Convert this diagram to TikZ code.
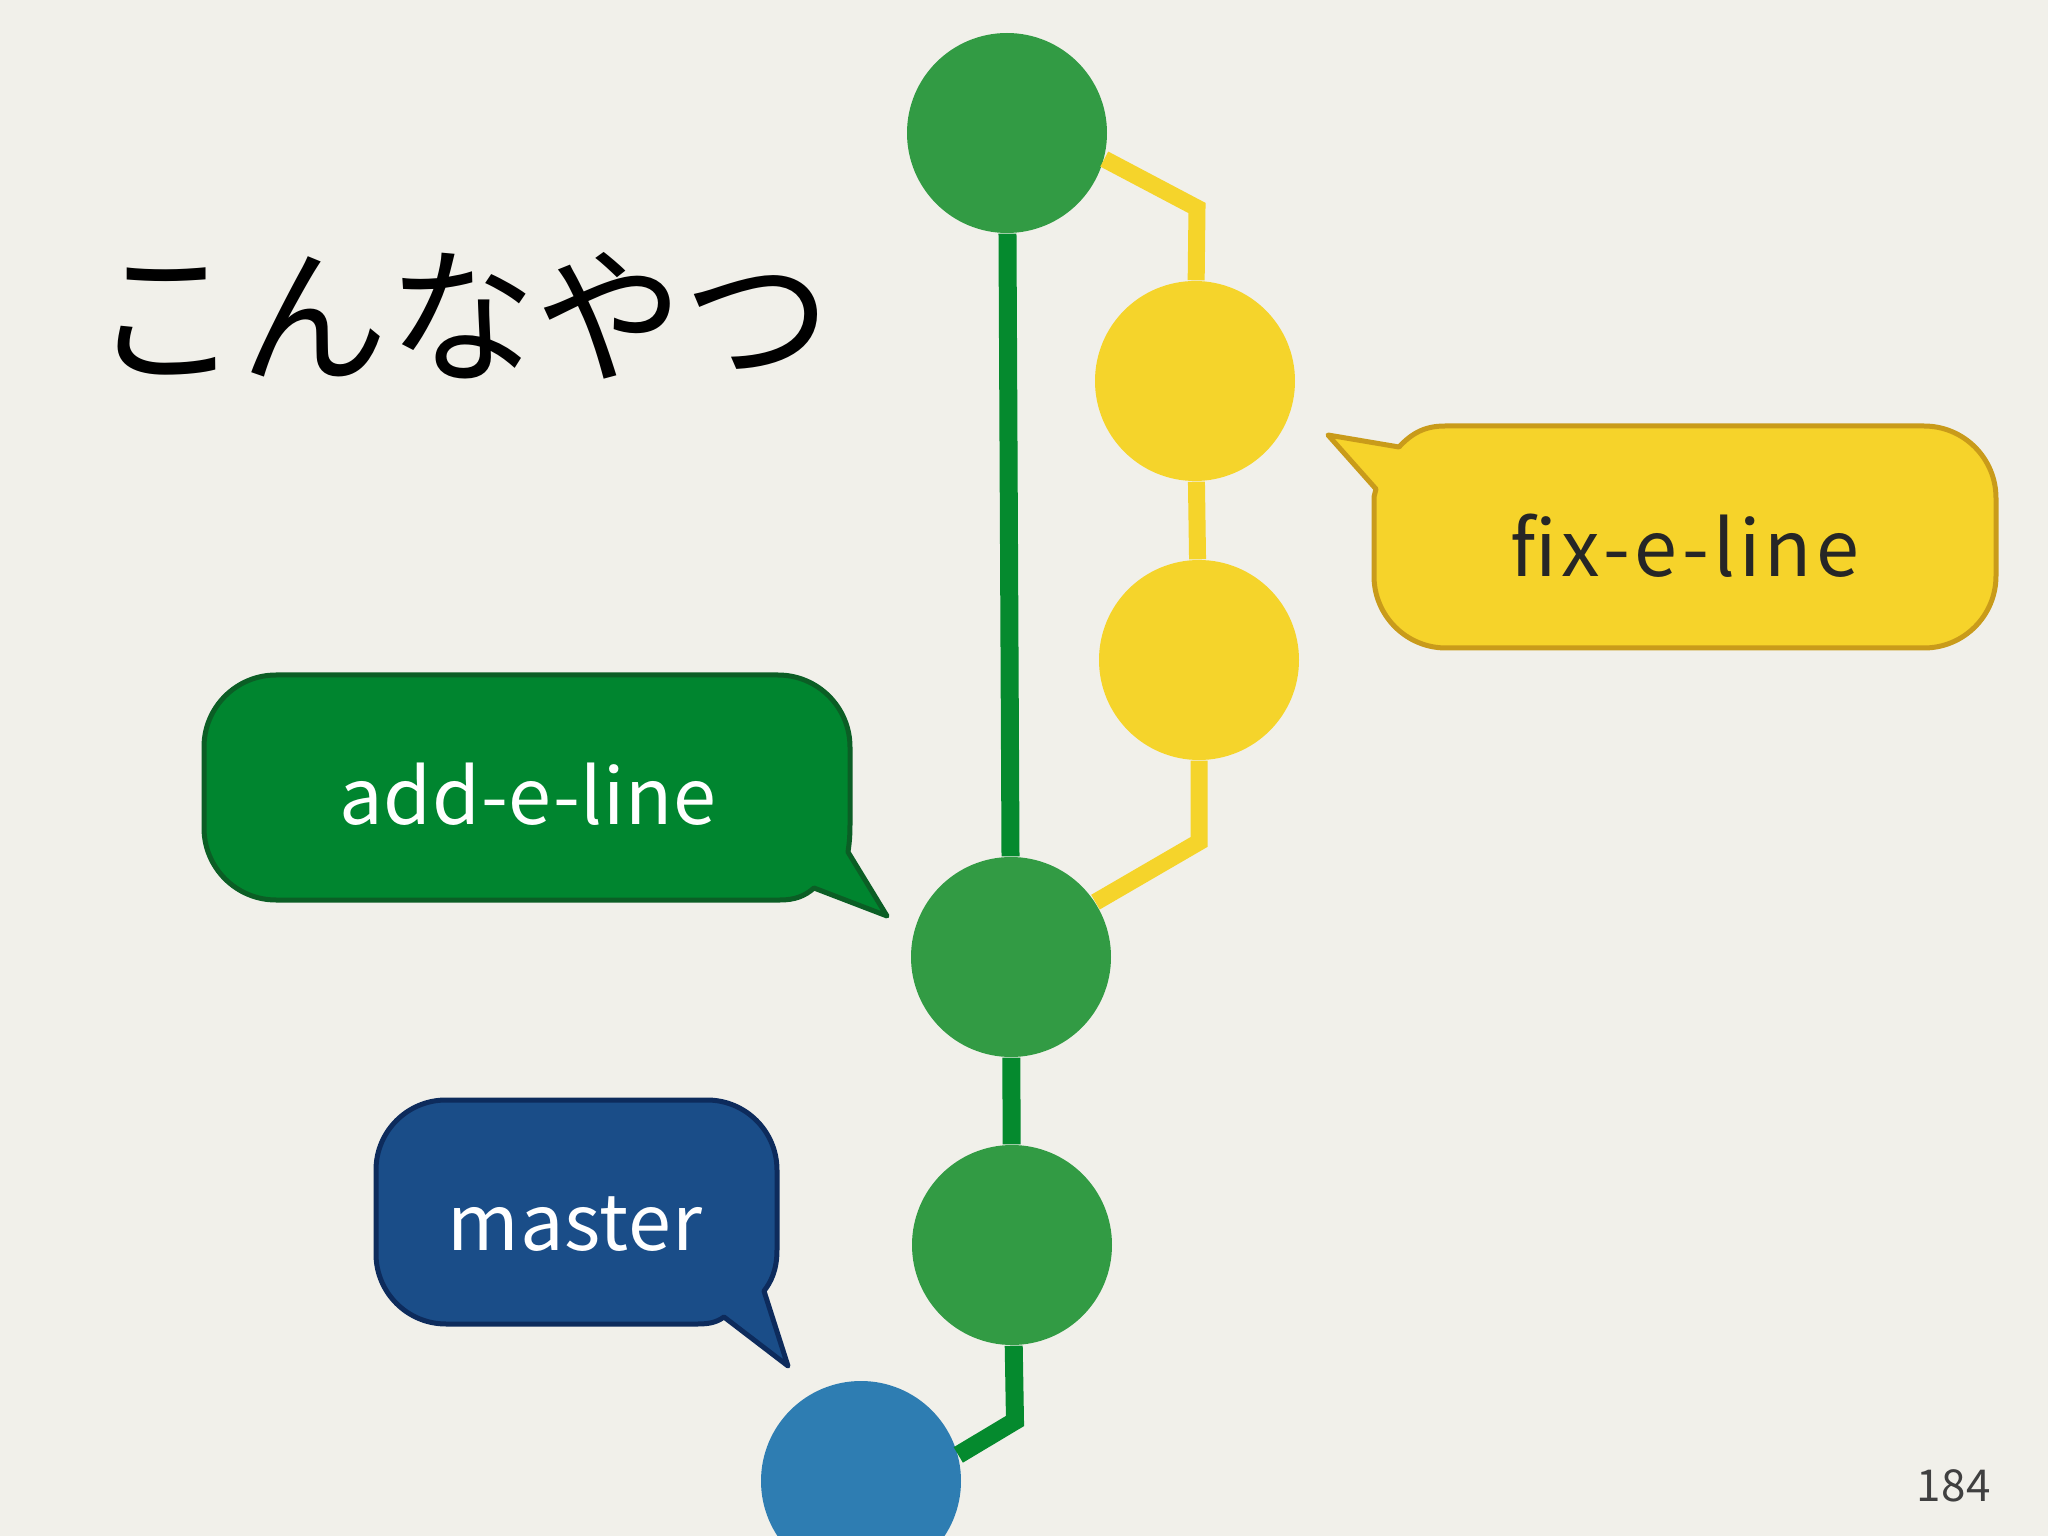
\documentclass[tikz,border=0pt]{standalone}
\usepackage{fontspec}
\newfontfamily\jpfont{Noto Sans CJK JP}
\newfontfamily\tagfont[LetterSpace=1]{Noto Sans CJK JP}
\newfontfamily\widetagfont[LetterSpace=5.5]{Noto Sans CJK JP}
\definecolor{paper}{HTML}{F1F0EA}
\definecolor{trunkdot}{HTML}{329B44}
\definecolor{trunkline}{HTML}{058A2E}
\definecolor{topicdot}{HTML}{F5D42B}
\definecolor{basedot}{HTML}{2E7DB2}
\definecolor{addfill}{HTML}{00852F}
\definecolor{addedge}{HTML}{0B5E25}
\definecolor{fixfill}{HTML}{F6D32A}
\definecolor{fixedge}{HTML}{C99B1A}
\definecolor{masterfill}{HTML}{1A4D88}
\definecolor{masteredge}{HTML}{0D2B5C}

\begin{document}
\begin{tikzpicture}[
  commit/.style={circle, minimum size=2cm, inner sep=0pt},
  trunk/.style={draw=trunkline, line width=0.18cm},
  topic/.style={draw=topicdot, line width=0.17cm},
  bubble/.style={line width=0.05cm, line join=round},
  tag/.style={font=\tagfont\fontsize{22}{26}\selectfont, anchor=base, inner sep=0pt}]
\useasboundingbox (0,0) rectangle (20.48,-15.36);
\clip (0,0) rectangle (20.48,-15.36);
\fill[paper] (0,0) rectangle (20.48,-15.36);

\node[font=\jpfont\fontsize{42}{46}\selectfont, inner sep=0pt] (title) at (4.62,-3.16) {こんなやつ};

% commits
\node[commit, fill=trunkdot] (g3) at (10.07,-1.33) {};
\node[commit, fill=topicdot] (f2) at (11.95,-3.81) {};
\node[commit, fill=topicdot] (f1) at (11.99,-6.60) {};
\node[commit, fill=trunkdot] (g2) at (10.11,-9.57) {};
\node[commit, fill=trunkdot] (g1) at (10.12,-12.45) {};
\node[commit, fill=basedot] (base) at (8.61,-14.81) {};

\coordinate (b1) at (11.97,-2.08);
\coordinate (b2) at (11.99,-8.42);
\coordinate (b3) at (10.15,-14.21);

\draw[trunk] (g3) -- (g2);
\draw[trunk] (g2) -- (g1);
\draw[trunk] (g1) -- (b3) -- (base.15);
\draw[topic] (g3.-15) -- (b1) -- (f2);
\draw[topic] (f2) -- (f1);
\draw[topic] (f1) -- (b2) -- (g2.33);

% branch labels
\coordinate (fixtip) at (13.28,-4.35);
\draw[bubble, draw=fixedge, fill=fixfill] (fixtip) -- (13.99,-4.47)
  .. controls (14.12,-4.33) and (14.25,-4.26) .. (14.45,-4.26) -- (19.24,-4.26)
  arc[start angle=90, end angle=0, radius=0.72] -- (19.96,-5.76)
  arc[start angle=0, end angle=-90, radius=0.72] -- (14.46,-6.48)
  arc[start angle=-90, end angle=-180, radius=0.72] -- (13.74,-4.97)
  -- (13.76,-4.89) -- cycle;
\node[tag, font=\widetagfont\fontsize{22}{26}\selectfont, text=black!85] (fix) at (16.85,-5.77) {fix-e-line};

\coordinate (addtip) at (8.87,-9.16);
\draw[bubble, draw=addedge, fill=addfill] (addtip) -- (8.14,-8.88)
  .. controls (8.05,-8.96) and (7.95,-9.00) .. (7.80,-9.00) -- (2.76,-9.00)
  arc[start angle=-90, end angle=-180, radius=0.72] -- (2.04,-7.47)
  arc[start angle=180, end angle=90, radius=0.72] -- (7.78,-6.75)
  arc[start angle=90, end angle=0, radius=0.72] -- (8.50,-8.25)
  .. controls (8.50,-8.38) and (8.49,-8.45) .. (8.48,-8.52) -- cycle;
\node[tag, text=white] (add) at (5.28,-8.25) {add-e-line};

\coordinate (mastertip) at (7.88,-13.66);
\draw[bubble, draw=masteredge, fill=masterfill] (mastertip) -- (7.24,-13.17)
  .. controls (7.17,-13.22) and (7.10,-13.24) .. (6.98,-13.24) -- (4.46,-13.24)
  arc[start angle=-90, end angle=-180, radius=0.70] -- (3.76,-11.70)
  arc[start angle=180, end angle=90, radius=0.70] -- (7.07,-11.00)
  arc[start angle=90, end angle=0, radius=0.70] -- (7.77,-12.50)
  .. controls (7.77,-12.70) and (7.71,-12.82) .. (7.64,-12.91) -- cycle;
\node[tag, text=white] (master) at (5.75,-12.50) {master};

\node[font=\tagfont\fontsize{12.5}{14}\selectfont, text=black!75, inner sep=0pt] (page) at (19.54,-14.86) {184};
\end{tikzpicture}
\end{document}
